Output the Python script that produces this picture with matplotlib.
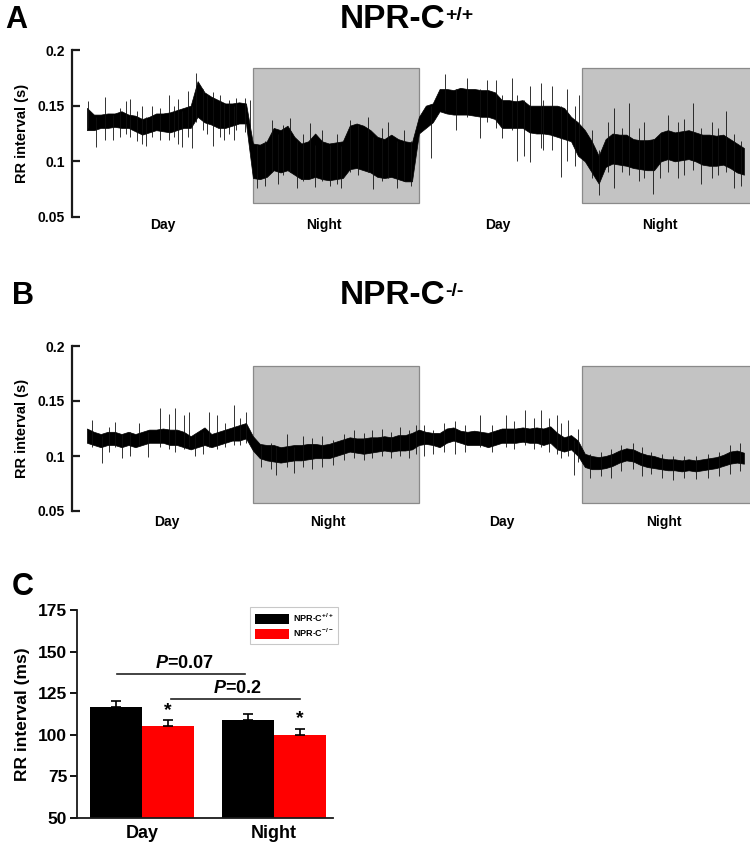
import numpy as np
import matplotlib
matplotlib.use('Agg')
import matplotlib.pyplot as plt
from matplotlib.patches import Rectangle, Patch

plt.rcParams['font.family'] = ['Liberation Sans', 'DejaVu Sans']
plt.rcParams['font.weight'] = 'bold'
plt.rcParams['mathtext.fontset'] = 'custom'
plt.rcParams['mathtext.rm'] = 'Liberation Sans:bold'
plt.rcParams['mathtext.it'] = 'Liberation Sans:bold:italic'
plt.rcParams['mathtext.bf'] = 'Liberation Sans:bold'
plt.rcParams['mathtext.default'] = 'rm'

# ---------------- data ----------------
hours = np.arange(96) * 0.5          # recording time (h), 0 .. 47.5
period_edges = [0, 12, 24, 35.8, 48.5]
period_names = ['Day', 'Night', 'Day', 'Night']

# Panel A (NPR-C+/+): envelope of the dense RR trace (s)
a_low = [0.128, 0.128, 0.130, 0.130, 0.131, 0.130, 0.130, 0.127, 0.124, 0.126,
         0.128, 0.127, 0.126, 0.128, 0.130, 0.130, 0.140, 0.135, 0.133, 0.130,
         0.130, 0.132, 0.134, 0.134,
         0.085, 0.084, 0.086, 0.092, 0.090, 0.092, 0.088, 0.084, 0.084, 0.086,
         0.084, 0.083, 0.084, 0.085, 0.093, 0.094, 0.092, 0.090, 0.086, 0.085,
         0.086, 0.084, 0.082, 0.082,
         0.125, 0.130, 0.135, 0.145, 0.143, 0.142, 0.142, 0.142, 0.141, 0.140,
         0.140, 0.138, 0.130, 0.130, 0.130, 0.130, 0.126, 0.125, 0.125, 0.124,
         0.122, 0.120, 0.118, 0.105,
         0.100, 0.090, 0.080, 0.095, 0.098, 0.097, 0.096, 0.094, 0.093, 0.092,
         0.092, 0.100, 0.102, 0.100, 0.101, 0.102, 0.100, 0.097, 0.096, 0.096,
         0.097, 0.094, 0.090, 0.088]
a_high = [0.148, 0.142, 0.142, 0.143, 0.143, 0.145, 0.142, 0.141, 0.138, 0.140,
          0.143, 0.143, 0.144, 0.146, 0.148, 0.150, 0.172, 0.162, 0.158, 0.155,
          0.152, 0.152, 0.153, 0.152,
          0.116, 0.115, 0.118, 0.130, 0.128, 0.132, 0.122, 0.116, 0.118, 0.125,
          0.118, 0.116, 0.117, 0.118, 0.132, 0.134, 0.132, 0.128, 0.122, 0.120,
          0.124, 0.120, 0.118, 0.117,
          0.140, 0.150, 0.152, 0.165, 0.165, 0.164, 0.166, 0.165, 0.165, 0.164,
          0.164, 0.162, 0.155, 0.155, 0.154, 0.155, 0.150, 0.150, 0.150, 0.150,
          0.150, 0.148, 0.140, 0.135,
          0.128, 0.118, 0.105, 0.120, 0.125, 0.124, 0.124, 0.120, 0.119, 0.119,
          0.120, 0.126, 0.128, 0.126, 0.127, 0.128, 0.126, 0.124, 0.124, 0.123,
          0.124, 0.120, 0.116, 0.112]
a_spike_t = [0.07, 0.65, 1.3, 1.9, 2.4, 2.8, 3.1, 3.6, 4.0, 4.3, 4.7, 5.3, 5.9, 6.3,
             6.6, 6.9, 7.3, 7.6, 7.9, 8.4, 8.7, 9.1, 9.6, 9.9, 10.3, 10.6, 10.8,
             11.4, 11.8,
             12.3, 12.9, 13.4, 13.8, 14.2, 14.7, 15.2, 15.6, 16.1, 16.5, 17.0, 17.6,
             18.1, 18.4, 19.0, 19.6, 20.3, 20.7, 21.3, 21.8, 22.4, 22.9, 23.4,
             24.9, 25.9, 26.7, 27.5, 28.4, 28.9, 29.6, 30.0, 30.7, 31.1, 31.6, 32.0,
             32.8, 33.0, 33.6, 34.3, 34.7, 35.3,
             35.6, 36.5, 37.0, 37.7, 38.1, 38.7, 39.2, 39.9, 40.3, 40.9, 41.4, 42.0,
             42.7, 43.2, 43.8, 44.4, 45.2, 45.6, 46.2, 46.8, 47.3]
a_spike_lo = [0.130, 0.113, 0.119, 0.119, 0.122, 0.125, 0.122, 0.118, 0.116, 0.114,
              0.122, 0.119, 0.119, 0.122, 0.116, 0.113, 0.122, 0.112, 0.135, 0.128,
              0.125, 0.114, 0.122, 0.119, 0.125, 0.119, 0.128, 0.126, 0.128,
              0.076, 0.078, 0.090, 0.080, 0.088, 0.090, 0.076, 0.082, 0.085, 0.077,
              0.082, 0.078, 0.080, 0.076, 0.090, 0.088, 0.090, 0.075, 0.082, 0.085,
              0.076, 0.082, 0.078,
              0.103, 0.145, 0.128, 0.140, 0.121, 0.135, 0.130, 0.121, 0.128, 0.100,
              0.105, 0.099, 0.112, 0.110, 0.110, 0.086, 0.100, 0.096,
              0.108, 0.085, 0.070, 0.090, 0.076, 0.090, 0.088, 0.082, 0.085, 0.071,
              0.085, 0.090, 0.085, 0.088, 0.092, 0.080, 0.085, 0.088, 0.090, 0.076,
              0.078]
a_spike_hi = [0.154, 0.140, 0.158, 0.142, 0.148, 0.154, 0.156, 0.145, 0.150, 0.140,
              0.150, 0.148, 0.160, 0.150, 0.156, 0.145, 0.163, 0.150, 0.179, 0.165,
              0.160, 0.162, 0.160, 0.152, 0.155, 0.150, 0.157, 0.157, 0.155,
              0.115, 0.118, 0.137, 0.125, 0.133, 0.139, 0.118, 0.125, 0.134, 0.115,
              0.128, 0.115, 0.125, 0.114, 0.137, 0.133, 0.140, 0.122, 0.130, 0.135,
              0.118, 0.128, 0.118,
              0.150, 0.178, 0.165, 0.175, 0.165, 0.173, 0.173, 0.160, 0.175, 0.160,
              0.155, 0.168, 0.170, 0.155, 0.168, 0.150, 0.165, 0.150,
              0.160, 0.128, 0.110, 0.135, 0.148, 0.130, 0.152, 0.130, 0.135, 0.120,
              0.125, 0.142, 0.135, 0.138, 0.152, 0.130, 0.135, 0.130, 0.145, 0.125,
              0.118]

# Panel B (NPR-C-/-)
b_low = [0.112, 0.110, 0.108, 0.110, 0.110, 0.108, 0.110, 0.108, 0.110, 0.112,
         0.112, 0.112, 0.110, 0.110, 0.108, 0.106, 0.108, 0.110, 0.108, 0.110,
         0.112, 0.114, 0.114, 0.116,
         0.105, 0.098, 0.096, 0.095, 0.094, 0.095, 0.096, 0.096, 0.097, 0.098,
         0.098, 0.098, 0.100, 0.102, 0.104, 0.103, 0.102, 0.103, 0.104, 0.105,
         0.104, 0.105, 0.105, 0.106,
         0.110, 0.111, 0.110, 0.108, 0.112, 0.114, 0.112, 0.110, 0.110, 0.110,
         0.108, 0.110, 0.112, 0.112, 0.112, 0.113, 0.112, 0.112, 0.110, 0.112,
         0.106, 0.104, 0.106, 0.100,
         0.090, 0.088, 0.088, 0.089, 0.091, 0.094, 0.096, 0.095, 0.092, 0.090,
         0.089, 0.088, 0.087, 0.087, 0.086, 0.087, 0.086, 0.087, 0.088, 0.089,
         0.091, 0.093, 0.094, 0.093]
b_high = [0.125, 0.122, 0.120, 0.122, 0.122, 0.120, 0.122, 0.120, 0.122, 0.124,
          0.124, 0.125, 0.124, 0.124, 0.122, 0.118, 0.122, 0.126, 0.120, 0.122,
          0.124, 0.126, 0.128, 0.130,
          0.118, 0.111, 0.110, 0.110, 0.108, 0.109, 0.110, 0.110, 0.111, 0.111,
          0.110, 0.111, 0.113, 0.115, 0.117, 0.116, 0.116, 0.117, 0.117, 0.118,
          0.117, 0.119, 0.119, 0.121,
          0.124, 0.122, 0.121, 0.121, 0.125, 0.126, 0.123, 0.122, 0.123, 0.122,
          0.121, 0.123, 0.125, 0.125, 0.125, 0.126, 0.125, 0.126, 0.125, 0.127,
          0.121, 0.117, 0.119, 0.114,
          0.102, 0.100, 0.099, 0.100, 0.102, 0.105, 0.107, 0.106, 0.103, 0.101,
          0.100, 0.098, 0.097, 0.097, 0.096, 0.097, 0.096, 0.097, 0.098, 0.099,
          0.101, 0.104, 0.105, 0.103]
b_spike_t = [0.34, 1.06, 1.6, 2.0, 2.5, 3.1, 3.8, 4.4, 5.3, 5.9, 6.4, 7.0, 7.4, 7.8,
             8.4, 8.8, 9.4, 10.0, 10.6, 11.1, 11.5,
             12.6, 13.3, 13.7, 14.5, 15.0, 15.6, 16.3, 17.0, 17.8, 18.6, 19.3, 20.0,
             20.6, 21.3, 22.0, 22.6, 23.3, 23.8,
             24.4, 25.0, 25.8, 26.6, 27.3, 28.4, 29.3, 30.3, 30.9, 31.7, 32.3, 32.8,
             33.4, 34.0, 34.3, 34.8, 35.2, 35.5,
             36.4, 37.2, 37.9, 38.6, 39.5, 40.1, 40.8, 41.6, 42.4, 43.2, 44.0, 44.9,
             45.7, 46.5, 47.2]
b_spike_lo = [0.108, 0.094, 0.104, 0.108, 0.098, 0.100, 0.110, 0.099, 0.108, 0.106,
              0.104, 0.106, 0.108, 0.100, 0.102, 0.108, 0.106, 0.108, 0.110, 0.110,
              0.112,
              0.090, 0.088, 0.083, 0.090, 0.085, 0.090, 0.088, 0.090, 0.092, 0.096,
              0.098, 0.096, 0.098, 0.100, 0.098, 0.100, 0.098, 0.102,
              0.100, 0.102, 0.104, 0.102, 0.104, 0.108, 0.104, 0.108, 0.106, 0.110,
              0.106, 0.108, 0.104, 0.102, 0.098, 0.100, 0.083, 0.095,
              0.080, 0.082, 0.080, 0.086, 0.088, 0.082, 0.084, 0.080, 0.078, 0.080,
              0.079, 0.080, 0.082, 0.084, 0.086]
b_spike_hi = [0.133, 0.118, 0.126, 0.131, 0.120, 0.122, 0.130, 0.122, 0.144, 0.138,
              0.144, 0.137, 0.140, 0.120, 0.122, 0.140, 0.137, 0.130, 0.146, 0.135,
              0.140,
              0.110, 0.112, 0.108, 0.120, 0.108, 0.118, 0.116, 0.118, 0.115, 0.120,
              0.124, 0.121, 0.124, 0.125, 0.122, 0.126, 0.124, 0.128,
              0.128, 0.124, 0.130, 0.132, 0.128, 0.137, 0.128, 0.137, 0.132, 0.142,
              0.135, 0.142, 0.135, 0.137, 0.130, 0.133, 0.115, 0.125,
              0.102, 0.104, 0.106, 0.110, 0.112, 0.108, 0.104, 0.102, 0.100, 0.100,
              0.100, 0.102, 0.104, 0.110, 0.112]

# Panel C: mean RR interval (ms) and SEM
c_groups = ['Day', 'Night']
c_wt_mean = [116.5, 109.0]
c_wt_sem = [4.0, 3.5]
c_ko_mean = [105.0, 100.0]
c_ko_sem = [3.7, 3.6]
c_series = ['NPR-C$^{+/+}$', 'NPR-C$^{-/-}$']

# ---------------- figure ----------------
W, H = 750, 843
fig = plt.figure(figsize=(W / 100, H / 100), dpi=100)

def px_axes(left, top, right, bottom):
    return fig.add_axes([left / W, 1 - bottom / H, (right - left) / W, (bottom - top) / H])

spine_col = '#1a1a1a'

def trace_panel(ax, low, high, st, slo, shi, box_lo, box_hi, label_x, label_y):
    ax.set_xlim(-1.08, 47.94)
    ax.set_ylim(0.05, 0.2)
    for i in (1, 3):
        ax.add_patch(Rectangle((period_edges[i], box_lo),
                               period_edges[i + 1] - period_edges[i], box_hi - box_lo,
                               facecolor='#c3c3c3', edgecolor='#8a8a8a', lw=0.9, zorder=0))
    ax.fill_between(hours, low, high, color='black', lw=0.5, zorder=2)
    ax.vlines(st, slo, shi, color='#111111', lw=0.6, zorder=2)
    for s in ('top', 'right', 'bottom'):
        ax.spines[s].set_visible(False)
    ax.spines['left'].set_color(spine_col)
    ax.spines['left'].set_linewidth(1.6)
    ax.set_xticks([])
    ax.set_yticks([0.05, 0.1, 0.15, 0.2])
    ax.set_yticklabels(['0.05', '0.1', '0.15', '0.2'])
    ax.tick_params(axis='y', direction='in', length=6, width=1.6, color=spine_col,
                   labelsize=10, pad=5)
    ax.set_ylabel('RR interval (s)', fontsize=10.5, fontweight='bold', labelpad=6)
    for x, name in zip(label_x, period_names):
        ax.text(x, label_y, name, transform=ax.get_xaxis_transform(),
                ha='center', va='center', fontsize=10, fontweight='bold')

axA = px_axes(72, 50, 750, 217)
trace_panel(axA, a_low, a_high, a_spike_t, a_spike_lo, a_spike_hi, 0.0623, 0.1838,
            [5.5, 17.1, 29.7, 41.4], -0.045)
axB = px_axes(72, 346, 750, 511)
trace_panel(axB, b_low, b_high, b_spike_t, b_spike_lo, b_spike_hi, 0.0573, 0.1818,
            [5.8, 17.4, 30.0, 41.7], -0.068)

fig.text(5 / W, 1 - 20 / H, 'A', fontsize=22, fontweight='bold', va='center')
fig.text(12 / W, 1 - 296 / H, 'B', fontsize=22, fontweight='bold', va='center')
fig.text(12 / W, 1 - 587 / H, 'C', fontsize=22, fontweight='bold', va='center')

tA = axA.text(340 / W, 1 - 20 / H, 'NPR-C', transform=fig.transFigure, fontsize=24,
              fontweight='bold', ha='left', va='center')
axA.annotate('+/+', xy=(1, 1), xycoords=tA, xytext=(0.0, -1.5), textcoords='offset points',
             ha='left', va='top', fontsize=14, fontweight='bold')
tB = axB.text(340 / W, 1 - 296 / H, 'NPR-C', transform=fig.transFigure, fontsize=24,
              fontweight='bold', ha='left', va='center')
axB.annotate('-/-', xy=(1, 1), xycoords=tB, xytext=(0.0, -1.5), textcoords='offset points',
             ha='left', va='top', fontsize=14, fontweight='bold')

# Panel C
axC = px_axes(77, 610, 333, 818)
x = np.arange(len(c_groups))
w = 0.394
axC.bar(x - w / 2, c_wt_mean, w, color='black', zorder=2)
axC.bar(x + w / 2, c_ko_mean, w, color='#ff0000', zorder=2)
axC.errorbar(x - w / 2, c_wt_mean, yerr=[[0, 0], c_wt_sem], fmt='none', ecolor='black',
             elinewidth=1.2, capsize=3.5, capthick=1.2, zorder=3)
axC.errorbar(x + w / 2, c_ko_mean, yerr=[[0, 0], c_ko_sem], fmt='none', ecolor='black',
             elinewidth=1.2, capsize=3.5, capthick=1.2, zorder=3)
for xi, m, s in zip(x + w / 2, c_ko_mean, c_ko_sem):
    axC.text(xi, m + s + 1.0, '*', ha='center', va='bottom', fontsize=14,
             fontweight='bold')
axC.set_xlim(-0.492, 1.447)
axC.set_ylim(50, 175)
axC.set_yticks([50, 75, 100, 125, 150, 175])
axC.set_xticks(x)
axC.set_xticklabels(c_groups)
for s in ('top', 'right'):
    axC.spines[s].set_visible(False)
for s in ('left', 'bottom'):
    axC.spines[s].set_linewidth(1.3)
    axC.spines[s].set_color(spine_col)
axC.tick_params(axis='y', direction='out', length=5, width=1.3, labelsize=12.5, pad=2)
axC.tick_params(axis='x', length=0, labelsize=13, pad=5)
axC.set_ylabel('RR interval (ms)', fontsize=12.5, fontweight='bold', labelpad=6)

# significance bars
axC.plot([-0.19, 0.78], [136.5, 136.5], color='#222222', lw=1.2)
axC.text(0.32, 138.0, r'$\mathit{P}$=0.07', ha='center', va='bottom', fontsize=13)
axC.plot([0.22, 1.2], [121.5, 121.5], color='#222222', lw=1.2)
axC.text(0.72, 123.0, r'$\mathit{P}$=0.2', ha='center', va='bottom', fontsize=13)

handles = [Patch(facecolor='black', label=c_series[0]),
           Patch(facecolor='#ff0000', label=c_series[1])]
leg = axC.legend(handles=handles, loc='upper right', bbox_to_anchor=(1.02, 1.015),
                 fontsize=6.5, frameon=True, fancybox=False, edgecolor='#bbbbbb',
                 handlelength=3.8, handleheight=1.3, handletextpad=0.4,
                 borderpad=0.55, labelspacing=0.3, borderaxespad=0)
leg.get_frame().set_linewidth(0.8)

fig.savefig('out.png', dpi=100)
